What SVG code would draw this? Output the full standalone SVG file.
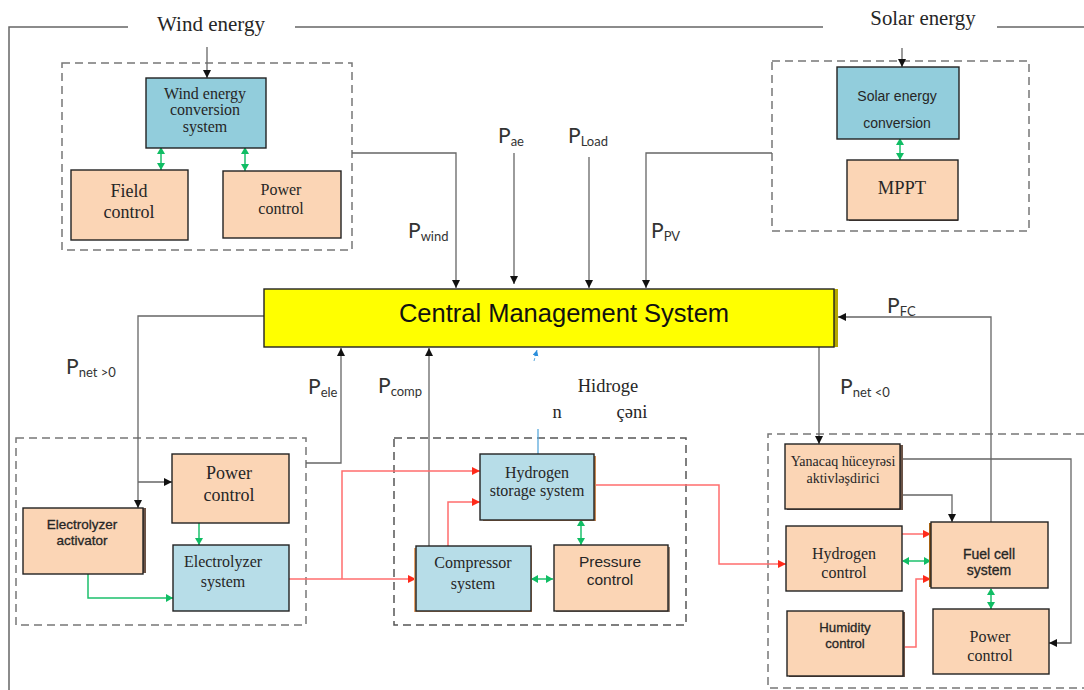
<svg xmlns="http://www.w3.org/2000/svg" width="1084" height="690" viewBox="0 0 1084 690">
<style>
text{font-family:"Liberation Serif","Times New Roman",serif;fill:#262626;text-anchor:middle}
.s{font-family:"Liberation Sans",Arial,sans-serif}
.m{stroke:#262626;stroke-width:.3}
.p{font-family:Lato,"Open Sans",sans-serif;font-size:21px;text-anchor:start;fill:#333}
.p tspan{font-size:13px}
.b{stroke:#222;stroke-width:1.4}
.o{fill:#fbd5b5}.l{fill:#b7dde8}.c{fill:#92cddc}
.dash{fill:none;stroke:#777;stroke-width:1.5;stroke-dasharray:8 5}
.k{fill:none;stroke:#666;stroke-width:1.3}
.r{fill:none;stroke:#ff6e6e;stroke-width:1.5}
.g{fill:none;stroke:#1cc06c;stroke-width:1.5}
.sh{fill:#6b5346}
</style>
<defs>
<marker id="ak" markerUnits="userSpaceOnUse" markerWidth="9" markerHeight="8" refX="8" refY="4" orient="auto"><path d="M0 0L8 4L0 8Z" fill="#111"/></marker>
<marker id="ar" markerUnits="userSpaceOnUse" markerWidth="9" markerHeight="8" refX="8" refY="4" orient="auto"><path d="M0 0L8 4L0 8Z" fill="#ff2a1a"/></marker>
<marker id="ag" markerUnits="userSpaceOnUse" markerWidth="8" markerHeight="8" refX="7" refY="4" orient="auto"><path d="M0 0L7 4L0 8Z" fill="#10bd64"/></marker>
<marker id="ags" markerUnits="userSpaceOnUse" markerWidth="8" markerHeight="8" refX="1" refY="4" orient="auto"><path d="M7 0L0 4L7 8Z" fill="#10bd64"/></marker>
<marker id="ab" markerUnits="userSpaceOnUse" markerWidth="7" markerHeight="8" refX="6" refY="3" orient="auto"><path d="M0 0L6 3L0 6Z" fill="#2b8fdc"/></marker>
</defs>

<g id="frames">
<path d="M128 27H9V690M295 27H823M997 27H1084" fill="none" stroke="#666" stroke-width="1.5"/>
<rect class="dash" x="62" y="63" width="290" height="187"/>
<rect class="dash" x="772" y="61" width="257" height="170"/>
<rect class="dash" x="16" y="438" width="290" height="187"/>
<rect class="dash" x="394" y="438" width="292" height="187" style="stroke:#555"/>
<path class="dash" d="M1084 434H768V688H1084"/>
</g>

<g id="connectors">
<path class="k" d="M207 47V78" marker-end="url(#ak)"/>
<path class="k" d="M902 48V67" marker-end="url(#ak)"/>
<path class="k" d="M352 153H456V288" marker-end="url(#ak)"/>
<path class="k" d="M514 153V284" marker-end="url(#ak)"/>
<path class="k" d="M589 157V288" marker-end="url(#ak)"/>
<path class="k" d="M772 153H646V288" marker-end="url(#ak)"/>
<path class="k" d="M264 316H138V508" marker-end="url(#ak)"/>
<path class="k" d="M138 482H172" marker-end="url(#ak)"/>
<path class="k" d="M306 463H341V348" marker-end="url(#ak)"/>
<path class="k" d="M429 546V348" marker-end="url(#ak)"/>
<path class="k" d="M819 347V444" marker-end="url(#ak)"/>
<path class="k" d="M991 522V317H838" marker-end="url(#ak)"/>
<path class="k" d="M903 459H1071V643H1049" marker-end="url(#ak)"/>
<path class="k" d="M903 495H952V522" marker-end="url(#ak)"/>
<path d="M538 454V429" fill="none" stroke="#5aa9dc" stroke-width="1.3"/>
<path d="M534 361L537 350" fill="none" stroke="#5aa9dc" stroke-width="1" stroke-dasharray="3 2" marker-end="url(#ab)"/>
<path class="r" d="M289 579H416" marker-end="url(#ar)"/>
<path class="r" d="M342 579V471H480" marker-end="url(#ar)"/>
<path class="r" d="M448 546V502H480" marker-end="url(#ar)"/>
<path class="r" d="M594 485H719V564H786" marker-end="url(#ar)"/>
<path class="r" d="M902 534H931" marker-end="url(#ar)"/>
<path class="r" d="M904 647H916V579H931" marker-end="url(#ar)"/>
<path class="g" d="M161 148V170" marker-start="url(#ags)" marker-end="url(#ag)"/>
<path class="g" d="M245 148V171" marker-start="url(#ags)" marker-end="url(#ag)"/>
<path class="g" d="M900 139V160" marker-start="url(#ags)" marker-end="url(#ag)"/>
<path class="g" d="M199 523V545" marker-end="url(#ag)"/>
<path class="g" d="M88 573V598H173" marker-end="url(#ag)"/>
<path class="g" d="M581 520V545" marker-start="url(#ags)" marker-end="url(#ag)"/>
<path class="g" d="M532 579H553" marker-start="url(#ags)" marker-end="url(#ag)"/>
<path class="g" d="M903 561H931" marker-start="url(#ags)" marker-end="url(#ag)"/>
<path class="g" d="M991 589V609" marker-start="url(#ags)" marker-end="url(#ag)"/>
</g>

<g id="wind-title"><text x="211" y="31" font-size="21">Wind energy</text></g>
<g id="solar-title"><text x="923" y="25" font-size="20.800">Solar energy</text></g>

<g id="wind-conversion"><rect class="c b" x="146" y="78" width="120" height="70"/>
<text x="205" y="99" font-size="16">Wind energy</text><text x="205" y="115" font-size="16">conversion</text><text x="205" y="132" font-size="16">system</text></g>
<g id="field-control"><rect class="o b" x="71" y="170" width="117" height="70"/>
<text x="129" y="197" font-size="18">Field</text><text x="129" y="218" font-size="18">control</text></g>
<g id="wind-power-control"><rect class="o b" x="223" y="171" width="118" height="67"/>
<text x="281" y="195" font-size="16">Power</text><text x="281" y="214" font-size="16">control</text></g>

<g id="solar-conversion"><rect class="c b" x="837" y="67" width="122" height="72"/>
<text class="s" x="897" y="101" font-size="14">Solar energy</text><text class="s" x="897" y="128" font-size="14">conversion</text></g>
<g id="mppt"><rect class="sh" x="849" y="162" width="109" height="59"/><rect class="o b" x="847" y="160" width="111" height="60"/>
<text x="902" y="194" font-size="18.500">MPPT</text></g>

<g id="central"><rect x="833" y="289" width="5" height="58" fill="#b5a800"/><rect x="264" y="289" width="570" height="58" fill="#ffff00" stroke="#222" stroke-width="1.4"/>
<text class="s" x="564" y="322" font-size="25.500" style="fill:#111">Central Management System</text></g>

<g id="power-labels">
<text class="p" x="408" y="238">P<tspan dy="3">wind</tspan></text>
<text class="p" x="498" y="143">P<tspan dy="3">ae</tspan></text>
<text class="p" x="568" y="143">P<tspan dy="3">Load</tspan></text>
<text class="p" x="651" y="238">P<tspan dy="3">PV</tspan></text>
<text class="p" x="887" y="313">P<tspan dy="3">FC</tspan></text>
<text class="p" x="66" y="374">P<tspan dy="3">net &gt;0</tspan></text>
<text class="p" x="308" y="394">P<tspan dy="3">ele</tspan></text>
<text class="p" x="378" y="393">P<tspan dy="3">comp</tspan></text>
<text class="p" x="840" y="394">P<tspan dy="3">net &lt;0</tspan></text>
</g>
<g id="hydrogen-tank-label">
<text x="608" y="392" font-size="18.500">Hidroge</text>
<text x="557" y="418" font-size="18.500">n</text>
<text x="632" y="418" font-size="18.500">çəni</text>
</g>

<g id="electrolyzer-power-control"><rect class="o b" x="172" y="454" width="117" height="69"/>
<text x="229" y="479" font-size="18">Power</text><text x="229" y="501" font-size="18">control</text></g>
<g id="electrolyzer-activator"><rect class="sh" x="26" y="508" width="120" height="65"/><rect class="o b" x="23" y="508" width="120" height="66"/>
<text class="s m" x="82" y="529" font-size="13.500">Electrolyzer</text><text class="s m" x="82" y="545" font-size="13.500">activator</text></g>
<g id="electrolyzer-system"><rect class="l b" x="173" y="545" width="116" height="66"/>
<text x="223" y="567" font-size="16">Electrolyzer</text><text x="223" y="587" font-size="16">system</text></g>

<g id="hydrogen-storage"><rect x="483" y="456" width="113" height="65" fill="#c98a55"/><rect class="l b" x="480" y="454" width="114" height="66"/>
<text x="537" y="478" font-size="16">Hydrogen</text><text x="537" y="496" font-size="16">storage system</text></g>
<g id="compressor-system"><rect x="414" y="548" width="118" height="64" fill="#e9a56b"/><rect class="l b" x="416" y="546" width="115" height="65"/>
<text x="473" y="568" font-size="16">Compressor</text><text x="473" y="589" font-size="16">system</text></g>
<g id="pressure-control"><rect x="556" y="547" width="114" height="65" fill="#9c8878"/><rect class="o b" x="554" y="545" width="114" height="66"/>
<text class="s" x="610" y="567" font-size="15.500">Pressure</text><text class="s" x="610" y="585" font-size="15.500">control</text></g>

<g id="fuel-cell-activator"><rect class="sh" x="787" y="445" width="116" height="65"/><rect class="o b" x="785" y="444" width="115" height="65"/>
<text x="843" y="466" font-size="14">Yanacaq hüceyrəsi</text><text x="843" y="483" font-size="14">aktivləşdirici</text></g>
<g id="hydrogen-control"><rect class="o b" x="786" y="526" width="116" height="65"/>
<text x="844" y="559" font-size="16">Hydrogen</text><text x="844" y="578" font-size="16">control</text></g>
<g id="fuel-cell-system"><rect x="929" y="523" width="6" height="64" fill="#a5610f"/><rect class="o b" x="931" y="522" width="117" height="66"/>
<text class="s m" x="989" y="559" font-size="14">Fuel cell</text><text class="s m" x="989" y="575" font-size="14">system</text></g>
<g id="humidity-control"><rect class="sh" x="789" y="612" width="116" height="65"/><rect class="o b" x="787" y="611" width="116" height="65"/>
<text class="s m" x="845" y="632" font-size="13.200">Humidity</text><text class="s m" x="845" y="648" font-size="13.200">control</text></g>
<g id="fuel-power-control"><rect class="o b" x="933" y="609" width="116" height="65"/>
<text x="990" y="642" font-size="16">Power</text><text x="990" y="661" font-size="16">control</text></g>
</svg>
